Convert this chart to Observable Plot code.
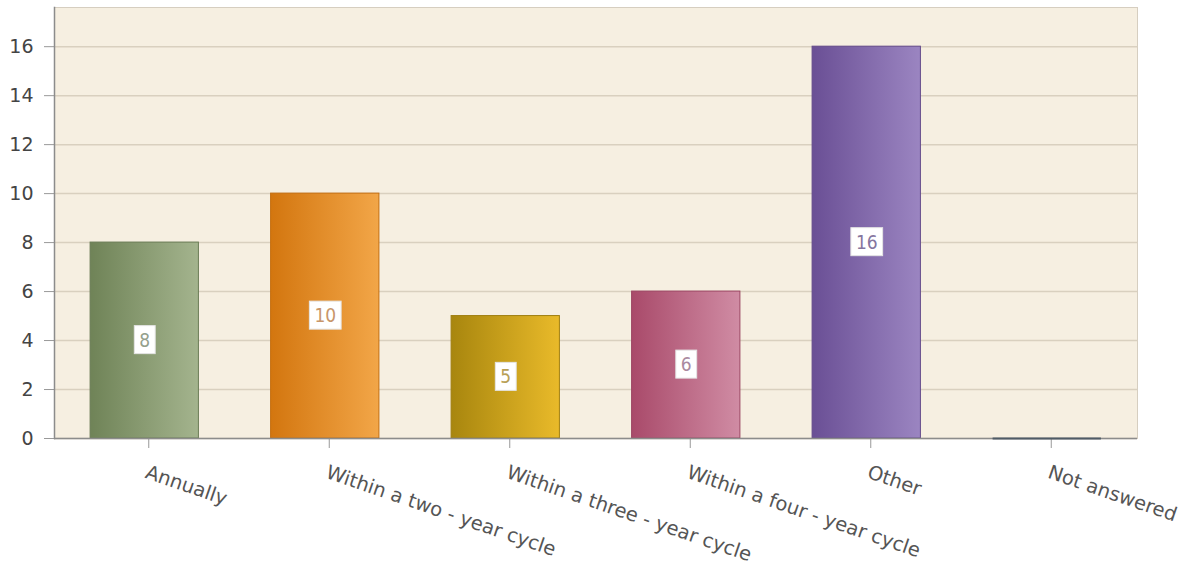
<!DOCTYPE html>
<html><head><meta charset="utf-8">
<script src="https://cdn.jsdelivr.net/npm/d3@7"></script>
<script src="https://cdn.jsdelivr.net/npm/@observablehq/plot@0.6"></script>
<style>body{margin:0;background:#fff;}</style>
</head><body><div id="chart"></div>
<script>
const categories = ["Annually", "Within a two - year cycle", "Within a three - year cycle", "Within a four - year cycle", "Other", "Not answered"];
const values = [8, 10, 5, 6, 16, 0];
const yTicks = [0, 2, 4, 6, 8, 10, 12, 14, 16];
const gradLeft = ["#6f8357", "#d3760f", "#a8860e", "#a94a6a", "#6a4f95", "#4f5b66"];
const gradRight = ["#a4b48e", "#f2a648", "#e9ba2a", "#d08ca4", "#9b85c1", "#4f5b66"];
const borders = ["#6a7c55", "#c46e10", "#a07f10", "#9c4663", "#634a8a", "#4f5b66"];
const labelColors = ["#95a08c", "#c8966a", "#b8a055", "#aa8aa0", "#85769f", "#777"];

const data = categories.map((c, i) => ({
  category: c, value: values[i], fill: `url(#grad${i})`, stroke: borders[i], labelColor: labelColors[i]
}));

const chart = Plot.plot({
  width: 1181, height: 571,
  marginLeft: 54, marginRight: 44, marginTop: 7, marginBottom: 133,
  style: {fontFamily: "'DejaVu Sans', Verdana, sans-serif", background: "#fff", overflow: "visible"},
  x: {domain: categories, paddingInner: 0.4, paddingOuter: 0.2, round: false, label: null},
  y: {domain: [0, 17.6], label: null},
  color: {type: "identity"},
  marks: [
    Plot.frame({fill: "#f6efe1", stroke: "#d6cec0"}),
    Plot.gridY(yTicks, {stroke: "#d9d0bf", strokeOpacity: 1, strokeWidth: 1.5}),
    Plot.barY(data.filter(d => d.value > 0), {x: "category", y: "value", fill: "fill", stroke: "stroke", strokeWidth: 1}),
    Plot.axisY({ticks: yTicks, tickSize: 10, tickPadding: 11, fontSize: 19, fill: "#444", stroke: "#999", label: null}),
    Plot.axisX({tickSize: 10, tickPadding: 16, dx: 4, tickRotate: 19, textAnchor: "start", lineAnchor: "top", fontSize: 19.5, fill: "#555", stroke: "#999", label: null}),
    Plot.ruleY([0], {stroke: "#8c8c8c", strokeWidth: 1.5}),
    Plot.frame({anchor: "left", stroke: "#8c8c8c", strokeWidth: 1.5}),
    Plot.tickY(data.filter(d => d.value === 0), {x: "category", y: "value", stroke: "stroke", strokeWidth: 2}),
    Plot.text(data.filter(d => d.value > 0), {x: "category", y: d => d.value / 2, text: d => String(d.value), fill: "labelColor", fontSize: 19, fontFamily: "'DejaVu Sans Condensed', 'DejaVu Sans', sans-serif"})
  ]
});

document.getElementById("chart").appendChild(chart);

const svg = d3.select(chart);
const defs = svg.insert("defs", ":first-child");
categories.forEach((c, i) => {
  const g = defs.append("linearGradient").attr("id", `grad${i}`).attr("x1", 0).attr("x2", 1).attr("y1", 0).attr("y2", 0);
  g.append("stop").attr("offset", "0%").attr("stop-color", gradLeft[i]);
  g.append("stop").attr("offset", "100%").attr("stop-color", gradRight[i]);
});

svg.selectAll('g[aria-label="text"] text').each(function() {
  const b = this.getBBox();
  d3.select(this.parentNode).insert("rect", () => this)
    .attr("transform", this.getAttribute("transform"))
    .attr("x", b.x - 5).attr("y", b.y - 3).attr("width", b.width + 10).attr("height", b.height + 6)
    .attr("fill", "#fff").attr("stroke", "#e4e4e4").attr("stroke-width", 1);
});
</script>
</body></html>
